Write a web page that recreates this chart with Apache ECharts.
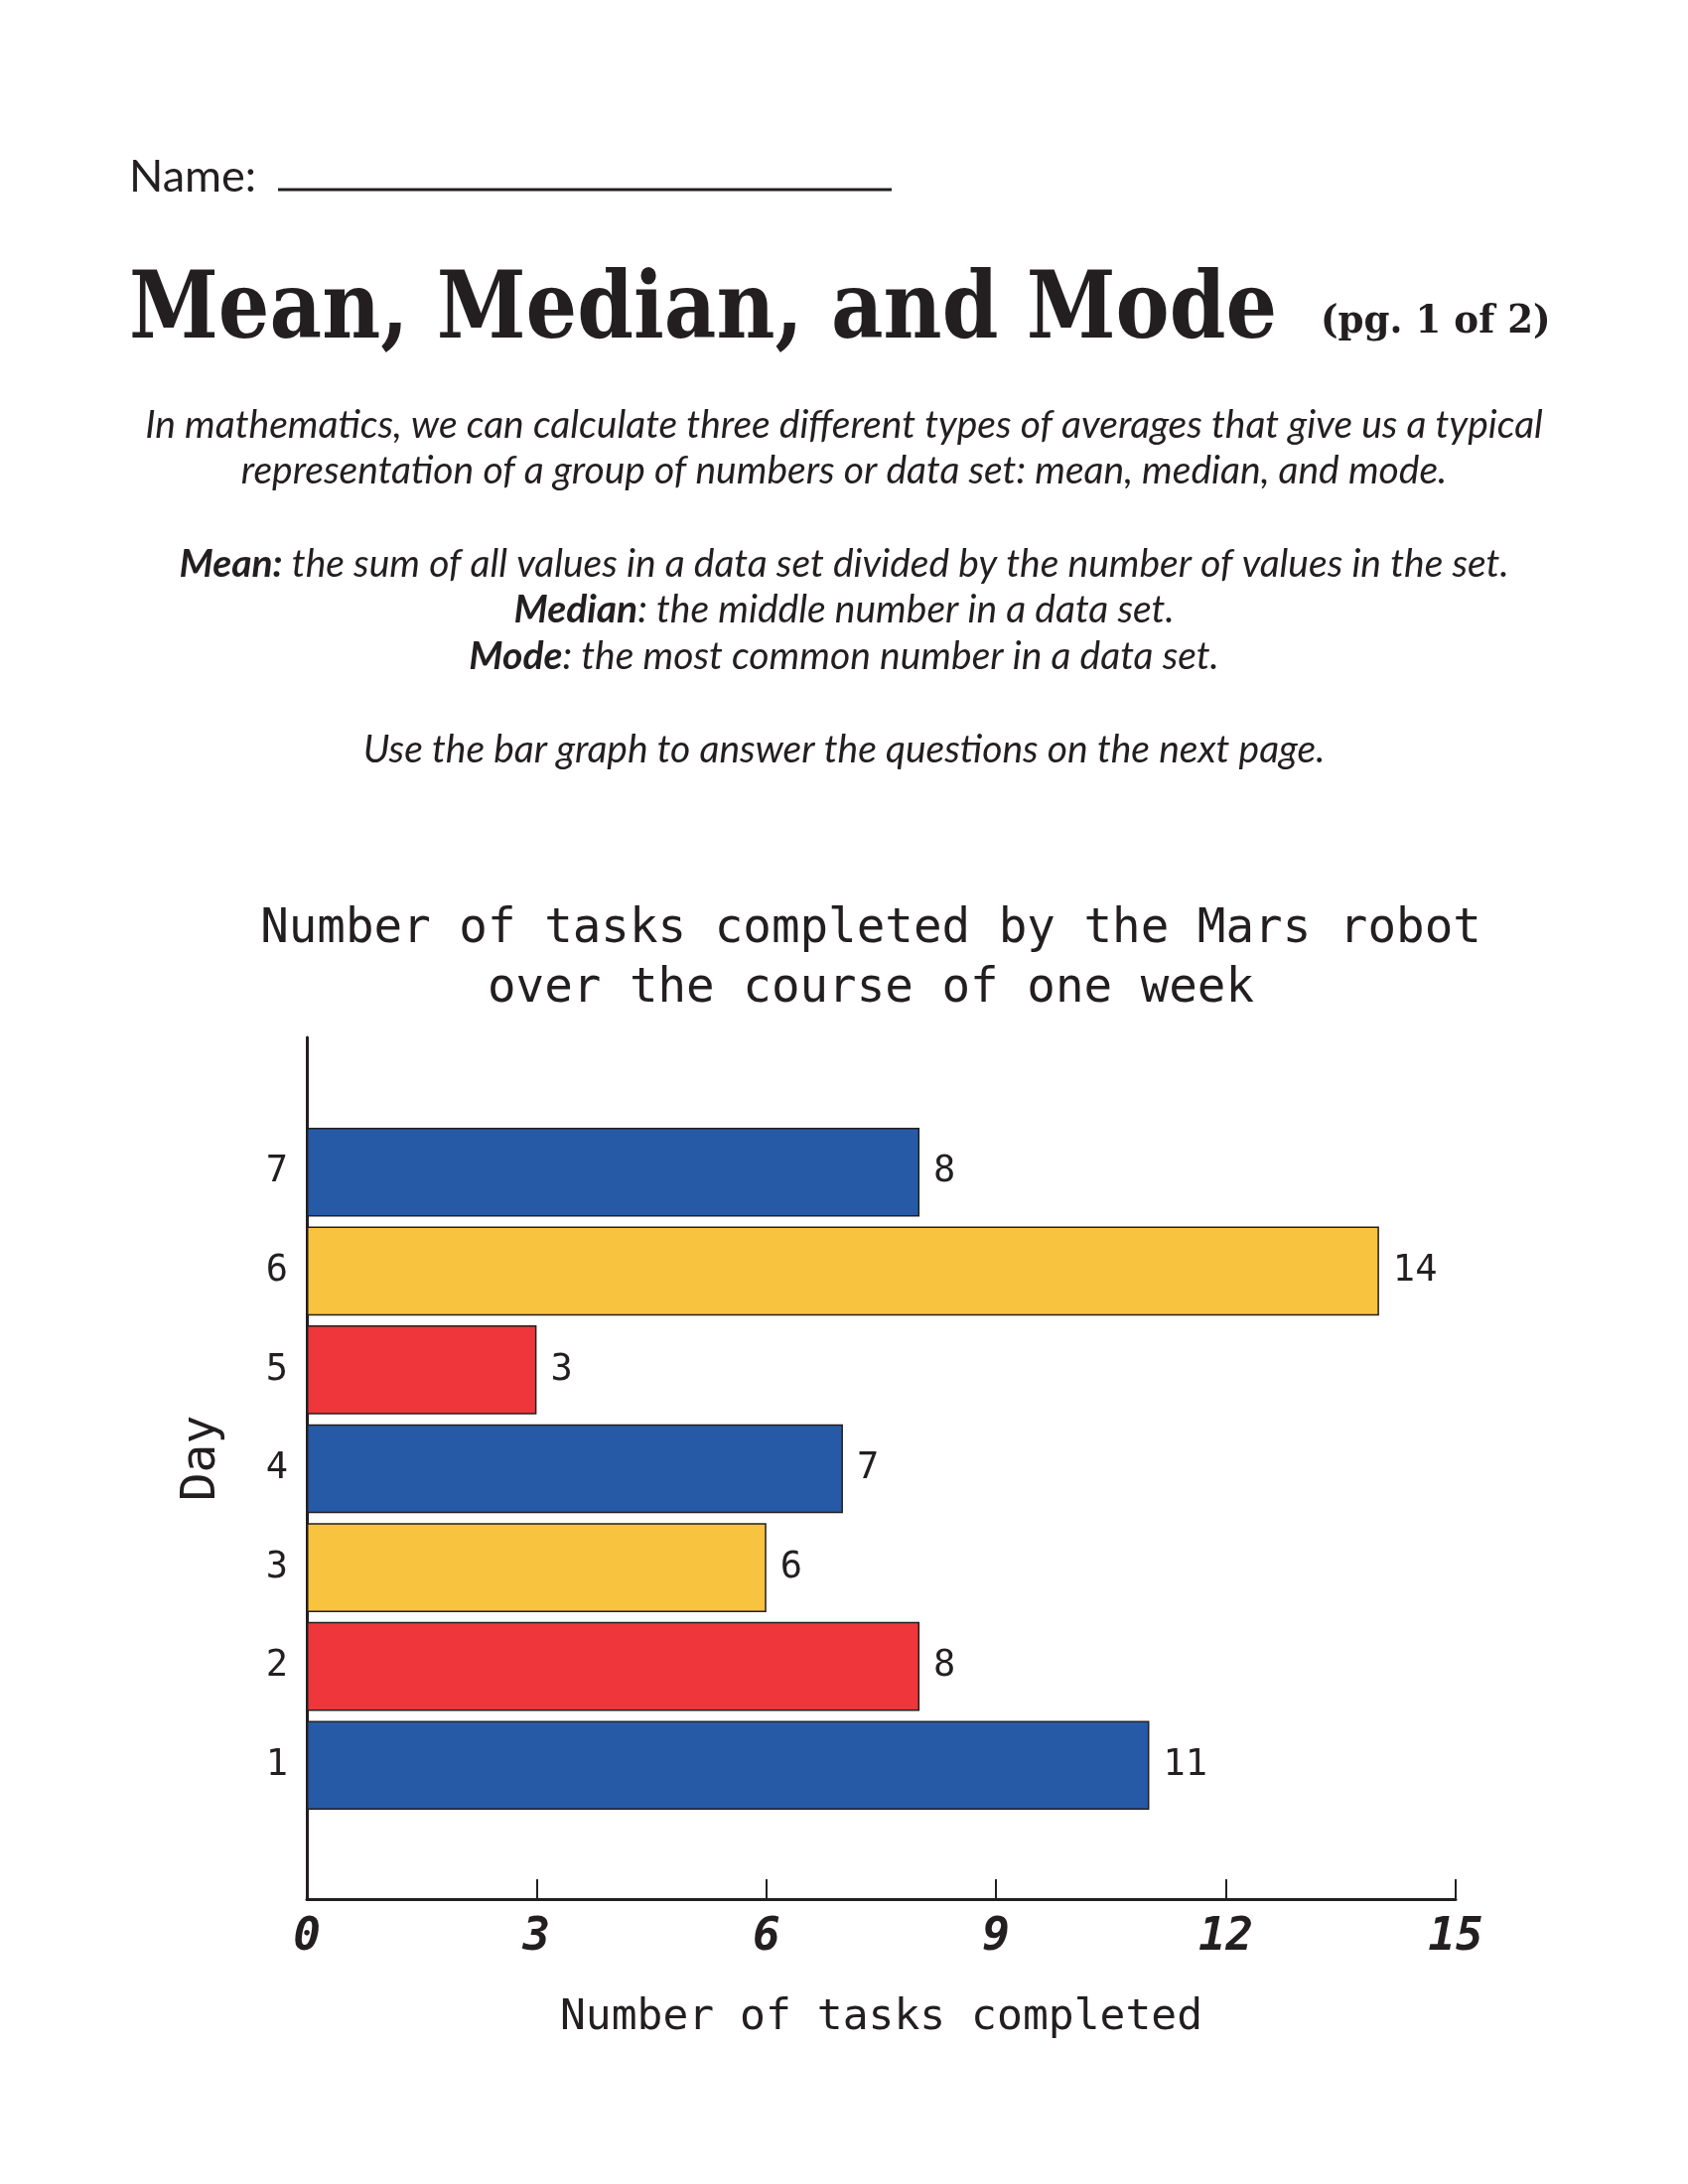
<!DOCTYPE html>
<html>
<head>
<meta charset="utf-8">
<script src="https://cdn.jsdelivr.net/npm/echarts@6/dist/echarts.min.js"></script>
<style>
html,body{margin:0;padding:0;background:#fff;}
#chart{width:1700px;height:2200px;}
</style>
</head>
<body>
<div id="chart"></div>
<script>
// ---- data ----
const days = ['1', '2', '3', '4', '5', '6', '7'];
const tasksCompleted = [11, 8, 6, 7, 3, 14, 8];
const xMin = 0, xMax = 15, xStep = 3;

const chartTitle = 'Number of tasks completed by the Mars robot\nover the course of one week';
const xAxisName = 'Number of tasks completed';
const yAxisName = 'Day';

// ---- style ----
const ink = '#231f20';
const palette = ['#265aa6', '#ee363b', '#f8c33e'];
const mono = "'DejaVu Sans Mono', monospace";
const lato = "Lato, 'Noto Sans', sans-serif";
const slab = "'DejaVu Serif', serif";

const chart = echarts.init(document.getElementById('chart'), null, {renderer: 'canvas'});

const barData = tasksCompleted.map((v, i) => ({
  value: v,
  itemStyle: {color: palette[i % 3]}
}));

const PF = 39;
const textItalic = {fontFamily: lato, fontStyle: 'italic', fontSize: PF, fill: ink, align: 'center', verticalAlign: 'middle'};
const richB = {b: {fontFamily: lato, fontStyle: 'italic', fontWeight: 'bold', fontSize: PF, fill: ink}};

chart.setOption({
  backgroundColor: '#ffffff',
  animation: false,
  graphic: [
    {type: 'text', x: 130, y: 178, style: {text: 'Name:', fontFamily: lato, fontSize: 45, fill: ink, verticalAlign: 'middle'}},
    {type: 'line', shape: {x1: 280, y1: 191, x2: 898, y2: 191}, style: {stroke: ink, lineWidth: 3}},
    {type: 'text', x: 130, y: 316, scaleX: 0.873, style: {text: 'Mean, Median, and Mode', fontFamily: slab, fontWeight: 'bold', fontSize: 93, fill: ink, verticalAlign: 'middle'}},
    {type: 'text', x: 1330, y: 325, scaleX: 0.93, style: {text: '(pg. 1 of 2)', fontFamily: slab, fontWeight: 'bold', fontSize: 40, fill: ink, verticalAlign: 'middle'}},
    {type: 'text', x: 850, y: 428, style: Object.assign({}, textItalic, {text: 'In mathematics, we can calculate three different types of averages that give us a typical'})},
    {type: 'text', x: 850, y: 474, style: Object.assign({}, textItalic, {text: 'representation of a group of numbers or data set: mean, median, and mode.'})},
    {type: 'text', x: 850, y: 568, style: Object.assign({}, textItalic, {text: '{b|Mean:} the sum of all values in a data set divided by the number of values in the set.', rich: richB})},
    {type: 'text', x: 850, y: 614, style: Object.assign({}, textItalic, {text: '{b|Median}: the middle number in a data set.', rich: richB})},
    {type: 'text', x: 850, y: 661, style: Object.assign({}, textItalic, {text: '{b|Mode}: the most common number in a data set.', rich: richB})},
    {type: 'text', x: 850, y: 755, style: Object.assign({}, textItalic, {text: 'Use the bar graph to answer the questions on the next page.'})},
    {type: 'text', x: 877, y: 967, style: {text: chartTitle, fontFamily: mono, fontSize: 47.5, fill: ink, align: 'center', verticalAlign: 'middle', lineHeight: 60}}
  ],
  grid: [
    {left: 309, right: 234, top: 1131, height: 697, containLabel: false},
    {left: 309, right: 234, top: 1045, bottom: 287, containLabel: false}
  ],
  xAxis: [
    {gridIndex: 0, type: 'value', min: xMin, max: xMax, interval: xStep, show: false},
    {
      gridIndex: 1, type: 'value', min: xMin, max: xMax, interval: xStep,
      axisLine: {show: true, lineStyle: {color: ink, width: 3}},
      axisTick: {show: true, inside: true, length: 20, lineStyle: {color: ink, width: 2}},
      splitLine: {show: false},
      axisLabel: {fontFamily: mono, fontWeight: 'bold', fontStyle: 'italic', fontSize: 46, color: ink, margin: 16},
      name: xAxisName, nameLocation: 'middle', nameGap: 98,
      nameTextStyle: {fontFamily: mono, fontSize: 43, color: ink}
    }
  ],
  yAxis: [
    {
      gridIndex: 0, type: 'category', data: days,
      axisLine: {show: false}, axisTick: {show: false}, splitLine: {show: false},
      axisLabel: {fontFamily: mono, fontSize: 37, color: ink, margin: 19}
    },
    {
      gridIndex: 1, type: 'value', min: 0, max: 1,
      axisLine: {show: true, onZero: false, lineStyle: {color: ink, width: 3}},
      axisTick: {show: false}, axisLabel: {show: false}, splitLine: {show: false},
      name: yAxisName, nameLocation: 'middle', nameGap: 81, nameRotate: 90,
      nameTextStyle: {fontFamily: mono, fontSize: 48, color: ink, padding: [0, 0, 0, 20]}
    }
  ],
  series: [{
    type: 'bar',
    xAxisIndex: 0, yAxisIndex: 0,
    data: barData,
    barCategoryGap: '10%',
    itemStyle: {borderColor: ink, borderWidth: 1.5},
    label: {show: true, position: 'right', distance: 14, fontFamily: mono, fontSize: 37, color: ink}
  }]
});
</script>
</body>
</html>
